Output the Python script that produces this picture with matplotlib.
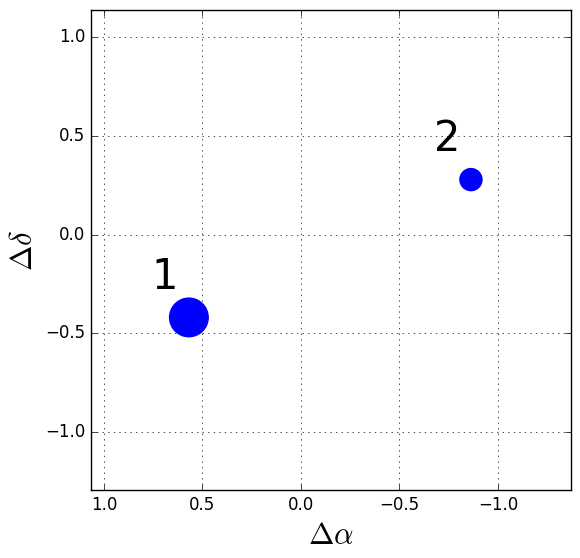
import numpy as np
import matplotlib
matplotlib.use("Agg")
import matplotlib.pyplot as plt

plt.style.use('classic')

# offsets of the two sources
labels = ['1', '2']
d_alpha = [0.569, -0.863]
d_delta = [-0.42, 0.278]
sizes = [830, 285]

fig = plt.figure(figsize=(5.8, 5.58), dpi=100)
ax = fig.add_axes([91 / 580, 1 - 490 / 558, 480 / 580, 480 / 558])

ax.scatter(d_alpha, d_delta, s=sizes, c='b', edgecolors='none', zorder=3)
for lab, x, y in zip(labels, d_alpha, d_delta):
    ax.text(x + 0.19, y + 0.145, lab, fontsize=30, ha='left', va='baseline')

ax.set_xlim(1.066, -1.371)
ax.set_ylim(-1.294, 1.137)
ax.set_xticks([1.0, 0.5, 0.0, -0.5, -1.0])
ax.set_yticks([1.0, 0.5, 0.0, -0.5, -1.0])
ax.grid(True)
ax.set_xlabel(r'$\Delta\alpha$', fontsize=22)
ax.set_ylabel(r'$\Delta\delta$', fontsize=22)

fig.savefig('out.png', dpi=100)
